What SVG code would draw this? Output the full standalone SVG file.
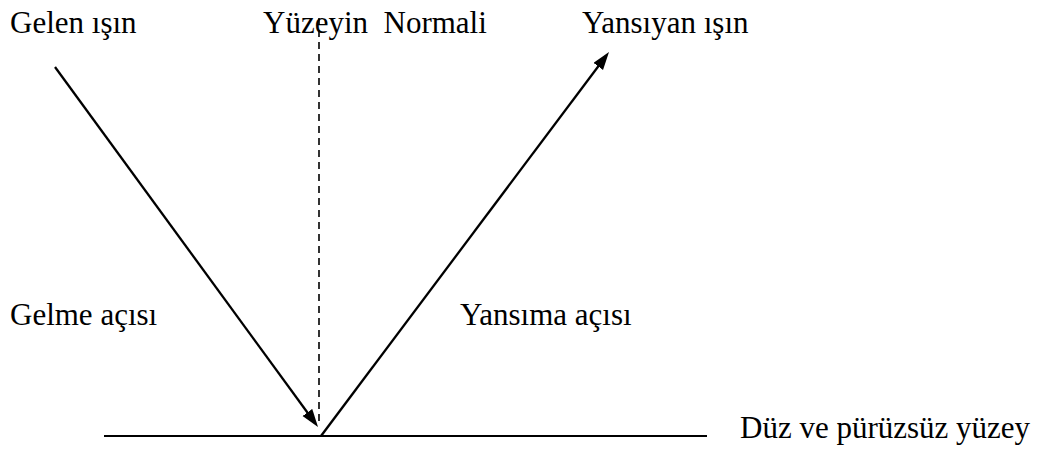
<svg xmlns="http://www.w3.org/2000/svg" width="1041" height="449" viewBox="0 0 1041 449">
  <style>
    text { font-family: 'Liberation Serif', 'Times New Roman', Times, serif; font-size: 31px; fill: #000; }
    .ray { stroke: #000; stroke-width: 2.3; fill: none; }
    .normal { stroke: #000; stroke-width: 1.6; stroke-dasharray: 7 5; fill: none; }
    .surface { stroke: #000; stroke-width: 2.2; fill: none; }
  </style>
  <defs>
    <marker id="arrow" markerUnits="userSpaceOnUse" markerWidth="18" markerHeight="14" refX="9" refY="6" orient="auto">
      <path d="M0,0 L18,6 L0,12 z" fill="#000"/>
    </marker>
  </defs>
  <rect width="1041" height="449" fill="#fff"/>
  <g id="connectors">
    <line id="normal" class="normal" x1="319" y1="18" x2="319" y2="426"/>
    <line id="incident-ray" class="ray" x1="55" y1="67" x2="312.7" y2="419.7" marker-end="url(#arrow)"/>
    <line id="reflected-ray" class="ray" x1="321" y1="436" x2="603.6" y2="59.2" marker-end="url(#arrow)"/>
    <line id="surface" class="surface" x1="104" y1="436" x2="707" y2="436"/>
  </g>
  <g id="label-gelen"><text x="10" y="33" font-family="Liberation Serif, serif">Gelen ışın</text></g>
  <g id="label-normal"><text x="263" y="33" font-family="Liberation Serif, serif" xml:space="preserve">Yüzeyin  Normali</text></g>
  <g id="label-yansiyan"><text x="582" y="33" font-family="Liberation Serif, serif">Yansıyan ışın</text></g>
  <g id="label-gelme-acisi"><text x="10" y="325" font-family="Liberation Serif, serif">Gelme açısı</text></g>
  <g id="label-yansima-acisi"><text x="460" y="325" font-family="Liberation Serif, serif">Yansıma açısı</text></g>
  <g id="label-yuzey"><text x="740" y="438" font-family="Liberation Serif, serif">Düz ve pürüzsüz yüzey</text></g>
</svg>
